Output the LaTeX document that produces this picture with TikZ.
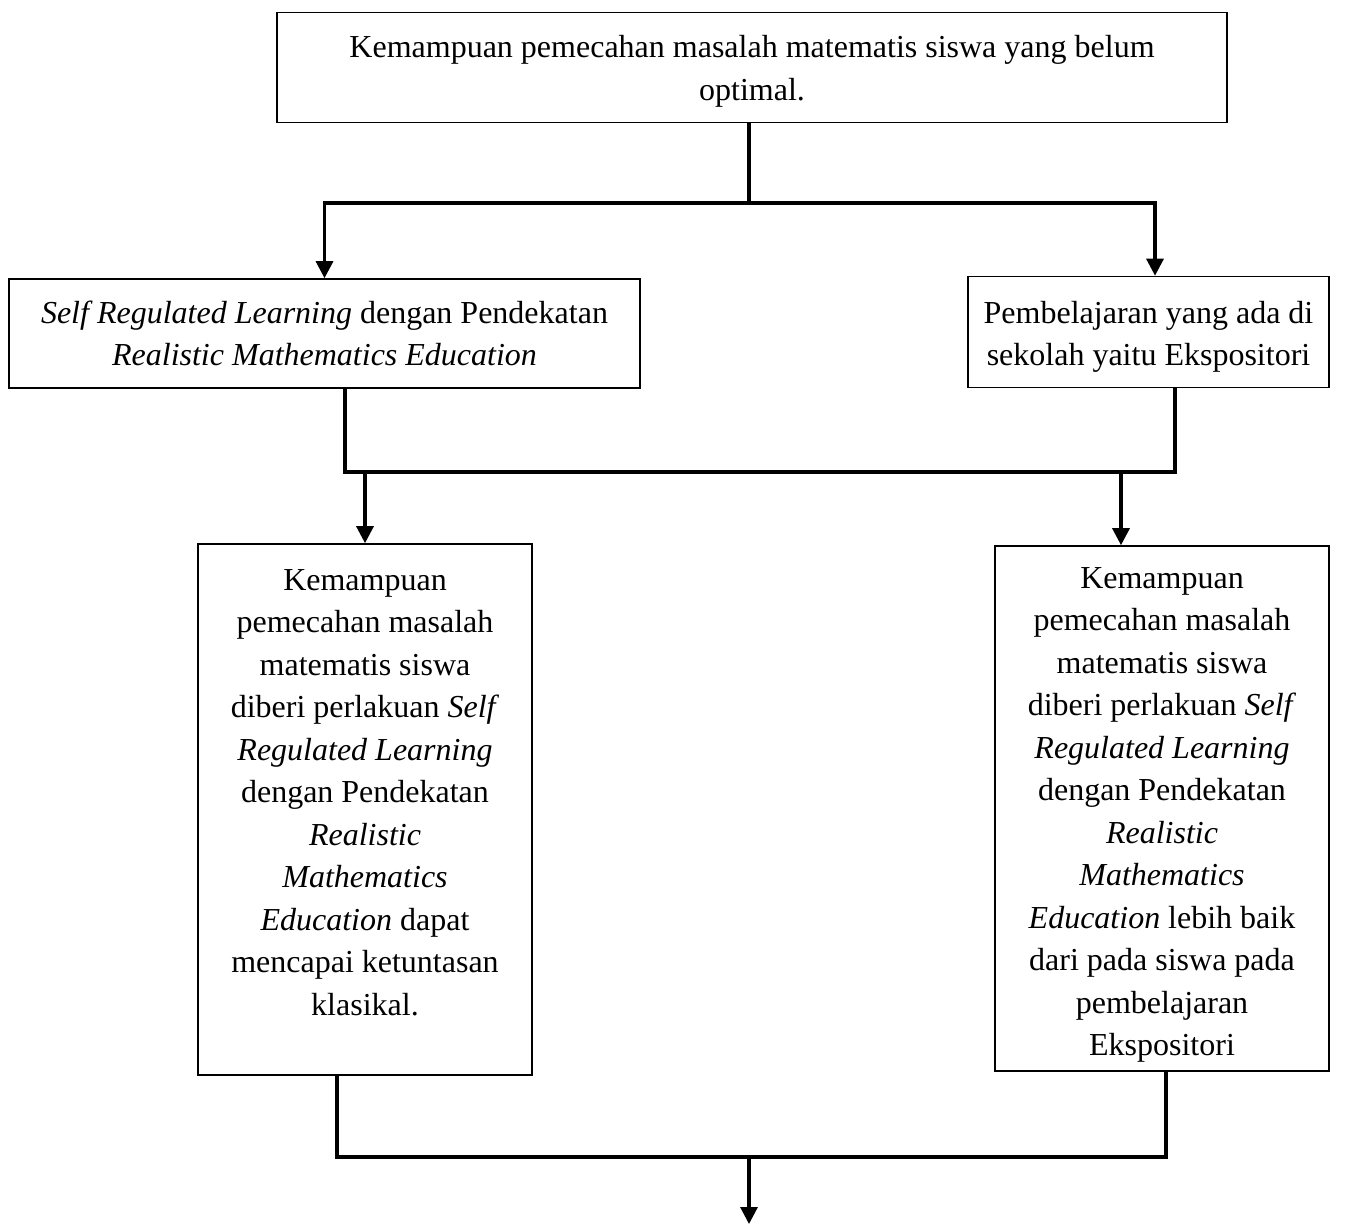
\documentclass[tikz,border=0pt]{standalone}
\usepackage{fontspec}
\setmainfont{Liberation Serif}
\usetikzlibrary{arrows.meta,positioning}

\begin{document}
\begin{tikzpicture}[x=1pt,y=-1pt,>={Triangle[width=17pt,length=17pt]},
  box/.style={draw,line width=1.6pt,align=center,inner sep=0pt,font=\fontsize{32}{42.5}\selectfont},
  link/.style={line width=3.2pt}]
\useasboundingbox (0,0) rectangle (1362,1225);
% kotak
\node[box,minimum width=950pt,minimum height=110pt] (masalah) at (752,67.5)
  {\rule{0pt}{30pt}Kemampuan pemecahan masalah matematis siswa yang belum\\optimal.};
\node[box,minimum width=631pt,minimum height=109pt] (srl) at (324.5,333.5)
  {\textit{Self Regulated Learning} dengan Pendekatan\\\textit{Realistic Mathematics Education}};
\node[box,minimum width=361pt,minimum height=111pt] (eks) at (1148.5,332)
  {\rule{0pt}{32pt}Pembelajaran yang ada di\\sekolah yaitu Ekspositori};
\node[box,minimum width=334pt,minimum height=531pt] (hasilSrl) at (365,809.5)
  {Kemampuan\\pemecahan masalah\\matematis siswa\\diberi perlakuan \textit{Self}\\\textit{Regulated Learning}\\dengan Pendekatan\\\textit{Realistic}\\\textit{Mathematics}\\\textit{Education} dapat\\mencapai ketuntasan\\klasikal.\rule[-34pt]{0pt}{0pt}};
\node[box,minimum width=334pt,minimum height=525pt] (hasilEks) at (1162,808.5)
  {\rule{0pt}{34pt}Kemampuan\\pemecahan masalah\\matematis siswa\\diberi perlakuan \textit{Self}\\\textit{Regulated Learning}\\dengan Pendekatan\\\textit{Realistic}\\\textit{Mathematics}\\\textit{Education} lebih baik\\dari pada siswa pada\\pembelajaran\\Ekspositori};
% titik cabang
\coordinate (j1) at (749,203);
\coordinate (j2) at (0,472);
\coordinate (j3) at (749,1157);
\coordinate (akhir) at (749,1224);
% garis penghubung
\draw[link] (masalah.south -| j1) -- (j1);
\draw[link,->] (j1) -| (srl.north);
\draw[link,->] (j1) -| ([xshift=6.5pt]eks.north);
\draw[link] ([xshift=20.5pt]srl.south) |- (j2 -| eks.south) -| ([xshift=26.5pt]eks.south);
\draw[link,->] (hasilSrl.north |- j2) -- (hasilSrl.north);
\draw[link,->] ([xshift=-41pt]hasilEks.north |- j2) -- ([xshift=-41pt]hasilEks.north);
\draw[link] ([xshift=-28pt]hasilSrl.south) |- ([xshift=4pt]hasilEks.south |- j3) -- ([xshift=4pt]hasilEks.south);
\draw[link,->] (j3) -- (akhir);
\end{tikzpicture}
\end{document}
